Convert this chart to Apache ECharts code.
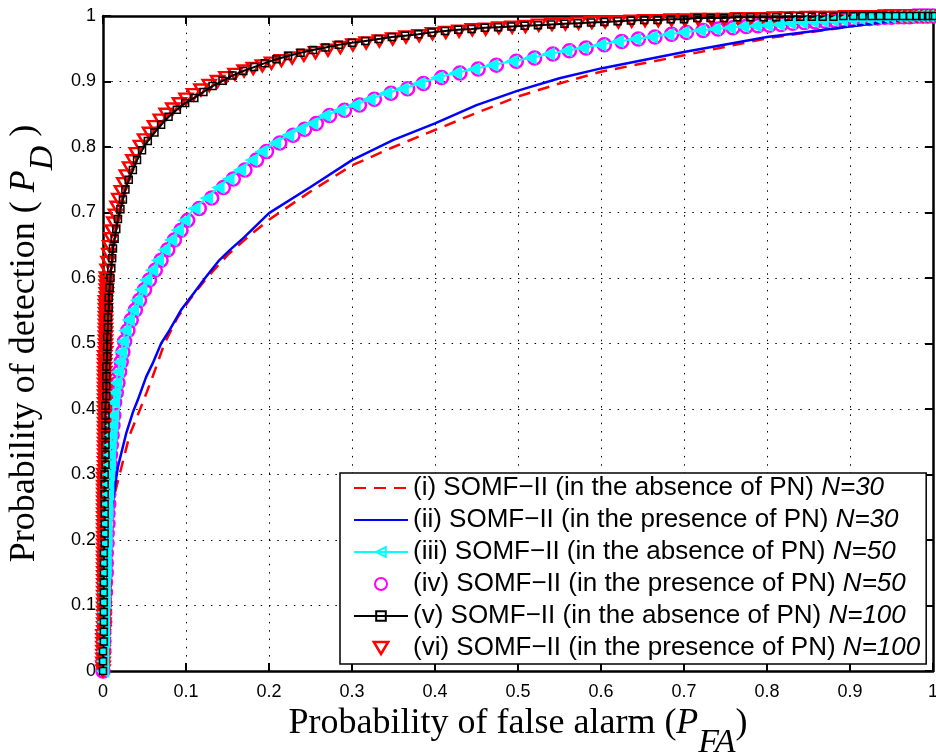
<!DOCTYPE html>
<html>
<head>
<meta charset="utf-8">
<script src="https://cdn.jsdelivr.net/npm/echarts@6/dist/echarts.min.js"></script>
<style>html,body{margin:0;padding:0;background:#fff;overflow:hidden}#c{width:936px;height:752px}</style>
</head>
<body>
<div id="c"></div>
<script>
// ---- Series names ----
const names = [
  '(i) SOMF\u2212II (in the absence of PN) N=30',
  '(ii) SOMF\u2212II (in the presence of PN) N=30',
  '(iii) SOMF\u2212II (in the absence of PN) N=50',
  '(iv) SOMF\u2212II (in the presence of PN) N=50',
  '(v) SOMF\u2212II (in the absence of PN) N=100',
  '(vi) SOMF\u2212II (in the presence of PN) N=100'
];

// ---- (i) N=30, absence of PN ----
const pfa30abs = [0, 0.001, 0.003, 0.006, 0.009, 0.013, 0.018, 0.022, 0.027, 0.032, 0.040, 0.048, 0.060, 0.074, 0.090, 0.105, 0.125, 0.150, 0.175, 0.200, 0.250, 0.300, 0.350, 0.400, 0.450, 0.500, 0.550, 0.600, 0.700, 0.800, 0.900, 1.000];
const pd30abs  = [0, 0.08, 0.16, 0.21, 0.24, 0.265, 0.29, 0.31, 0.335, 0.36, 0.385, 0.41, 0.45, 0.50, 0.54, 0.568, 0.60, 0.635, 0.663, 0.689, 0.732, 0.772, 0.800, 0.826, 0.852, 0.877, 0.897, 0.915, 0.940, 0.966, 0.984, 1.0];

// ---- (ii) N=30, presence of PN ----
const pfa30pres = [0, 0.001, 0.003, 0.006, 0.010, 0.012, 0.018, 0.028, 0.036, 0.042, 0.052, 0.060, 0.070, 0.080, 0.094, 0.110, 0.123, 0.140, 0.153, 0.170, 0.200, 0.250, 0.300, 0.350, 0.400, 0.450, 0.500, 0.550, 0.600, 0.700, 0.800, 0.900, 1.000];
const pd30pres  = [0, 0.08, 0.16, 0.21, 0.243, 0.261, 0.312, 0.363, 0.395, 0.414, 0.449, 0.47, 0.50, 0.52, 0.551, 0.578, 0.60, 0.627, 0.643, 0.662, 0.699, 0.739, 0.780, 0.811, 0.836, 0.864, 0.886, 0.905, 0.920, 0.945, 0.968, 0.984, 1.0];

// ---- (iii) N=50, absence of PN ----
const pfa50abs = [
 0.000,0.000,0.000,0.001,0.001,0.001,0.001,0.002,0.002,0.002,
 0.003,0.003,0.003,0.004,0.004,0.004,0.005,0.005,0.006,0.006,
 0.007,0.008,0.008,0.009,0.010,0.011,0.012,0.013,0.014,0.016,
 0.018,0.020,0.022,0.024,0.027,0.031,0.036,0.041,0.046,0.052,
 0.059,0.066,0.074,0.082,0.090,0.098,0.110,0.125,0.139,0.151,
 0.165,0.179,0.191,0.207,0.223,0.237,0.252,0.267,0.285,0.303,
 0.321,0.341,0.361,0.381,0.403,0.425,0.447,0.469,0.493,0.515,
 0.537,0.558,0.578,0.599,0.620,0.641,0.661,0.681,0.699,0.719,
 0.737,0.755,0.771,0.786,0.800,0.814,0.828,0.842,0.855,0.867,
 0.879,0.890,0.901,0.911,0.921,0.931,0.940,0.948,0.956,0.963,
 0.970,0.977,0.983,0.988,0.994,1.000];
const pd50abs = [
 0.000,0.015,0.030,0.045,0.060,0.075,0.090,0.105,0.120,0.135,
 0.150,0.165,0.180,0.195,0.210,0.225,0.240,0.255,0.270,0.285,
 0.300,0.315,0.330,0.345,0.360,0.375,0.390,0.410,0.425,0.440,
 0.457,0.472,0.487,0.503,0.520,0.536,0.551,0.566,0.582,0.597,
 0.612,0.627,0.643,0.658,0.673,0.688,0.706,0.722,0.738,0.751,
 0.765,0.780,0.793,0.806,0.818,0.827,0.836,0.848,0.856,0.864,
 0.873,0.882,0.889,0.897,0.906,0.913,0.919,0.925,0.931,0.936,
 0.942,0.947,0.951,0.956,0.961,0.965,0.968,0.972,0.975,0.978,
 0.980,0.982,0.984,0.985,0.986,0.987,0.989,0.990,0.991,0.992,
 0.993,0.994,0.995,0.996,0.996,0.997,0.998,0.998,0.999,0.999,
 0.999,1.000,1.000,1.000,1.000,1.000];

// ---- (iv) N=50, presence of PN ----
const pfa50pres = [
 0.000,0.000,0.001,0.001,0.001,0.002,0.002,0.002,0.003,0.003,
 0.004,0.004,0.004,0.005,0.005,0.006,0.006,0.007,0.007,0.008,
 0.008,0.009,0.009,0.010,0.011,0.012,0.013,0.014,0.016,0.018,
 0.020,0.022,0.024,0.026,0.030,0.034,0.039,0.044,0.050,0.056,
 0.063,0.070,0.078,0.086,0.094,0.102,0.116,0.131,0.145,0.157,
 0.171,0.185,0.197,0.213,0.229,0.243,0.257,0.273,0.291,0.309,
 0.327,0.347,0.367,0.386,0.408,0.430,0.452,0.474,0.498,0.520,
 0.542,0.562,0.582,0.604,0.625,0.645,0.665,0.685,0.703,0.723,
 0.741,0.759,0.775,0.789,0.803,0.817,0.831,0.845,0.858,0.870,
 0.882,0.893,0.904,0.914,0.924,0.933,0.942,0.950,0.958,0.965,
 0.972,0.978,0.984,0.989,0.994,1.000];
const pd50pres = [
 0.000,0.015,0.030,0.045,0.060,0.075,0.090,0.105,0.120,0.135,
 0.150,0.165,0.180,0.195,0.210,0.225,0.240,0.255,0.270,0.285,
 0.300,0.315,0.330,0.345,0.360,0.375,0.390,0.410,0.425,0.440,
 0.457,0.472,0.487,0.503,0.520,0.536,0.551,0.566,0.582,0.597,
 0.612,0.627,0.643,0.658,0.673,0.688,0.706,0.722,0.738,0.751,
 0.765,0.780,0.793,0.806,0.818,0.827,0.836,0.848,0.856,0.864,
 0.873,0.882,0.889,0.897,0.906,0.913,0.919,0.925,0.931,0.936,
 0.942,0.947,0.951,0.956,0.961,0.965,0.968,0.972,0.975,0.978,
 0.980,0.982,0.984,0.985,0.986,0.987,0.989,0.990,0.991,0.992,
 0.993,0.994,0.995,0.996,0.996,0.997,0.998,0.998,0.999,0.999,
 0.999,1.000,1.000,1.000,1.000,1.000];

// ---- (v) N=100, absence of PN ----
const pfa100abs = [
 0.000,0.000,0.000,0.001,0.001,0.001,0.001,0.001,0.001,0.001,
 0.001,0.001,0.001,0.002,0.002,0.002,0.002,0.002,0.002,0.002,
 0.002,0.003,0.003,0.003,0.003,0.003,0.003,0.003,0.004,0.004,
 0.004,0.004,0.005,0.005,0.005,0.006,0.006,0.007,0.007,0.008,
 0.009,0.010,0.011,0.012,0.014,0.016,0.018,0.021,0.024,0.027,
 0.031,0.036,0.041,0.047,0.054,0.062,0.070,0.079,0.089,0.099,
 0.110,0.121,0.132,0.144,0.156,0.169,0.182,0.195,0.209,0.223,
 0.238,0.253,0.268,0.284,0.300,0.316,0.332,0.348,0.364,0.380,
 0.396,0.412,0.428,0.444,0.460,0.476,0.492,0.508,0.524,0.540,
 0.556,0.572,0.588,0.604,0.620,0.636,0.652,0.668,0.684,0.700,
 0.716,0.732,0.748,0.764,0.780,0.796,0.811,0.826,0.840,0.854,
 0.867,0.880,0.892,0.904,0.915,0.926,0.936,0.946,0.955,0.964,
 0.972,0.980,0.987,0.994,1.000];
const pd100abs = [
 0.000,0.015,0.030,0.045,0.060,0.075,0.090,0.105,0.120,0.135,
 0.150,0.165,0.180,0.195,0.210,0.225,0.240,0.255,0.270,0.285,
 0.300,0.315,0.330,0.345,0.360,0.375,0.390,0.405,0.420,0.435,
 0.450,0.465,0.480,0.495,0.510,0.525,0.540,0.555,0.570,0.585,
 0.600,0.615,0.630,0.645,0.660,0.675,0.690,0.705,0.720,0.735,
 0.750,0.765,0.780,0.795,0.809,0.822,0.834,0.846,0.857,0.867,
 0.875,0.884,0.893,0.901,0.909,0.916,0.922,0.928,0.934,0.939,
 0.944,0.948,0.952,0.956,0.959,0.962,0.965,0.968,0.970,0.972,
 0.975,0.977,0.979,0.980,0.982,0.983,0.984,0.985,0.986,0.987,
 0.988,0.989,0.990,0.991,0.992,0.993,0.994,0.994,0.995,0.995,
 0.997,0.997,0.997,0.998,0.998,0.998,0.998,0.999,0.999,0.999,
 0.999,0.999,1.000,1.000,1.000,1.000,1.000,1.000,1.000,1.000,
 1.000,1.000,1.000,1.000,1.000];

// ---- (vi) N=100, presence of PN ----
const pfa100pres = [
 0.000,0.000,0.000,0.000,0.000,0.000,0.000,0.000,0.000,0.000,
 0.001,0.001,0.001,0.001,0.001,0.001,0.001,0.001,0.001,0.001,
 0.001,0.001,0.001,0.001,0.001,0.001,0.001,0.001,0.001,0.001,
 0.001,0.001,0.001,0.001,0.001,0.001,0.001,0.001,0.001,0.001,
 0.001,0.001,0.001,0.001,0.001,0.001,0.001,0.001,0.001,0.001,
 0.001,0.002,0.002,0.002,0.002,0.002,0.002,0.002,0.002,0.002,
 0.002,0.002,0.002,0.002,0.002,0.002,0.002,0.002,0.002,0.002,
 0.002,0.002,0.002,0.002,0.002,0.002,0.002,0.002,0.002,0.002,
 0.002,0.003,0.003,0.003,0.003,0.003,0.003,0.003,0.003,0.003,
 0.003,0.003,0.003,0.003,0.003,0.004,0.004,0.004,0.004,0.004,
 0.004,
 0.005,0.006,0.007,0.008,0.010,0.011,0.013,0.015,0.017,0.019,
 0.022,0.025,0.028,0.032,0.036,0.040,0.045,0.050,0.056,0.062,
 0.069,0.076,0.084,0.092,0.100,0.109,0.118,0.128,0.138,0.148,
 0.159,0.170,0.181,0.192,0.203,0.215,0.228,0.242,0.256,0.271,
 0.286,0.301,0.317,0.333,0.349,0.365,0.381,0.397,0.413,0.429,
 0.445,0.461,0.477,0.493,0.509,0.525,0.541,0.557,0.573,0.589,
 0.605,0.621,0.637,0.653,0.669,0.685,0.701,0.717,0.733,0.749,
 0.765,0.780,0.795,0.809,0.823,0.836,0.849,0.861,0.873,0.884,
 0.895,0.905,0.915,0.925,0.934,0.943,0.951,0.959,0.967,0.974,
 0.981,0.988,0.994,1.000];
const pd100pres = [
 0.000,0.006,0.012,0.018,0.024,0.030,0.036,0.042,0.048,0.054,
 0.060,0.066,0.072,0.078,0.084,0.090,0.096,0.102,0.108,0.114,
 0.120,0.126,0.132,0.138,0.144,0.150,0.156,0.162,0.168,0.174,
 0.180,0.186,0.192,0.198,0.204,0.210,0.216,0.222,0.228,0.234,
 0.240,0.246,0.252,0.258,0.264,0.270,0.276,0.282,0.288,0.294,
 0.300,0.306,0.312,0.318,0.324,0.330,0.336,0.342,0.348,0.354,
 0.360,0.366,0.372,0.378,0.384,0.390,0.396,0.402,0.408,0.414,
 0.420,0.426,0.432,0.438,0.444,0.450,0.456,0.462,0.468,0.474,
 0.480,0.486,0.492,0.498,0.504,0.510,0.516,0.522,0.528,0.534,
 0.540,0.546,0.552,0.558,0.564,0.570,0.576,0.582,0.588,0.594,
 0.600,
 0.612,0.624,0.636,0.648,0.660,0.672,0.684,0.696,0.708,0.720,
 0.732,0.744,0.756,0.768,0.779,0.790,0.801,0.811,0.821,0.831,
 0.841,0.850,0.858,0.866,0.873,0.880,0.887,0.894,0.900,0.906,
 0.911,0.916,0.920,0.924,0.928,0.932,0.936,0.940,0.944,0.948,
 0.952,0.956,0.959,0.962,0.965,0.968,0.970,0.973,0.975,0.977,
 0.979,0.980,0.982,0.983,0.984,0.986,0.987,0.988,0.989,0.990,
 0.991,0.991,0.992,0.993,0.993,0.994,0.994,0.995,0.995,0.995,
 0.996,0.996,0.996,0.997,0.997,0.997,0.998,0.998,0.998,0.998,
 0.999,0.999,0.999,0.999,0.999,1.000,1.000,1.000,1.000,1.000,
 1.000,1.000,1.000,1.000];

const pairs = (xs, ys) => xs.map((x, i) => [x, ys[i]]);

const chart = echarts.init(document.getElementById('c'), null, {renderer: 'canvas'});

const sans = 'Liberation Sans, Arial, Helvetica, sans-serif';
const serif = 'Liberation Serif, Times New Roman, serif';
const dotted = {color: '#000', width: 1, type: [1.5, 6.8]};
const clear = 'rgba(0,0,0,0)';

const axisCommon = {
  type: 'value', min: 0, max: 1, interval: 0.1,
  axisLine: {show: true, onZero: false, lineStyle: {color: '#000', width: 2.5}},
  axisTick: {show: true, inside: true, length: 8, lineStyle: {color: '#000', width: 2}}
};

const titleRich = {
  a: {fontFamily: serif, fontSize: 36, color: '#000', lineHeight: 40, verticalAlign: 'top'},
  p: {fontFamily: serif, fontSize: 36, fontStyle: 'italic', color: '#000', lineHeight: 40, verticalAlign: 'top'},
  s: {fontFamily: serif, fontSize: 34, fontStyle: 'italic', color: '#000', lineHeight: 40, verticalAlign: 'top', padding: [20, 0, 0, 0]}
};

const option = {
  animation: false,
  backgroundColor: '#fff',
  grid: {left: 103, right: 3, top: 16, bottom: 81, containLabel: false, outerBoundsMode: 'none'},
  xAxis: [
    Object.assign({}, axisCommon, {
      position: 'bottom',
      axisLabel: {color: '#000', fontSize: 18, fontFamily: sans, margin: 12},
      splitLine: {show: true, lineStyle: dotted},
      name: '{a|Probability of false alarm (}{p|P}{s|FA}{a|)}',
      nameLocation: 'middle', nameGap: 29,
      nameTextStyle: {rich: titleRich}
    }),
    Object.assign({}, axisCommon, {
      position: 'top', axisLabel: {show: false}, splitLine: {show: false}
    })
  ],
  yAxis: [
    Object.assign({}, axisCommon, {
      position: 'left',
      axisLabel: {color: '#000', fontSize: 18, fontFamily: sans, margin: 7},
      splitLine: {show: true, lineStyle: dotted},
      name: '{a|Probability of detection ( }{p|P}{s|D}{a| )}',
      nameLocation: 'middle', nameGap: 25, nameRotate: 90,
      nameTextStyle: {rich: titleRich}
    }),
    Object.assign({}, axisCommon, {
      position: 'right', axisLabel: {show: false}, splitLine: {show: false}
    })
  ],
  legend: {
    orient: 'vertical', left: 340, top: 473,
    padding: [2, 6, 3, 13],
    itemWidth: 54, itemHeight: 12, itemGap: 6,
    backgroundColor: '#fff', borderColor: '#000', borderWidth: 1.5, borderRadius: 0,
    data: [
      {name: names[0], itemStyle: {color: clear, borderColor: clear, borderWidth: 0}},
      {name: names[1], itemStyle: {color: clear, borderColor: clear, borderWidth: 0}},
      {name: names[2], itemStyle: {color: clear, borderColor: '#00ffff', borderWidth: 2}},
      {name: names[3]},
      {name: names[4]},
      {name: names[5], icon: 'path://M0,0L12,0L6,10Z', itemStyle: {color: clear, borderColor: '#ff0000', borderWidth: 2.5}}
    ],
    formatter: function (name) {
      const k = name.lastIndexOf(' N=');
      return '{t|' + name.slice(0, k + 1) + '}{n|' + name.slice(k + 1) + '}';
    },
    textStyle: {
      color: '#000', fontSize: 26, fontFamily: sans, lineHeight: 26,
      rich: {
        t: {fontSize: 26, fontFamily: sans, color: '#000', lineHeight: 26},
        n: {fontSize: 26, fontFamily: sans, fontStyle: 'italic', color: '#000', lineHeight: 26}
      }
    }
  },
  series: [
    {
      name: names[0], type: 'line', data: pairs(pfa30abs, pd30abs),
      symbol: 'none', clip: false,
      lineStyle: {color: '#ff0000', width: 2.5, type: [12, 8]},
      itemStyle: {color: '#ff0000'}
    },
    {
      name: names[1], type: 'line', data: pairs(pfa30pres, pd30pres),
      symbol: 'none', clip: false,
      lineStyle: {color: '#0000ff', width: 2.5},
      itemStyle: {color: '#0000ff'}
    },
    {
      name: names[2], type: 'line', data: pairs(pfa50abs, pd50abs),
      symbol: 'triangle', symbolRotate: 90, symbolSize: 11, clip: false,
      lineStyle: {color: '#00ffff', width: 2},
      itemStyle: {color: '#00ffff', borderColor: '#00ffff', borderWidth: 1.5}
    },
    {
      name: names[3], type: 'scatter', data: pairs(pfa50pres, pd50pres),
      symbol: 'circle', symbolSize: 13, clip: false,
      itemStyle: {color: clear, borderColor: '#ff00ff', borderWidth: 2.5, opacity: 1}
    },
    {
      name: names[4], type: 'line', data: pairs(pfa100abs, pd100abs),
      symbol: 'rect', symbolSize: 7, clip: false,
      lineStyle: {color: '#000000', width: 2},
      itemStyle: {color: clear, borderColor: '#000000', borderWidth: 1.5}
    },
    {
      name: names[5], type: 'scatter', data: pairs(pfa100pres, pd100pres),
      symbol: 'triangle', symbolRotate: 180, symbolSize: [13, 11], clip: false,
      itemStyle: {color: clear, borderColor: '#ff0000', borderWidth: 2.5, opacity: 1}
    }
  ]
};
chart.setOption(option);
</script>
</body>
</html>
